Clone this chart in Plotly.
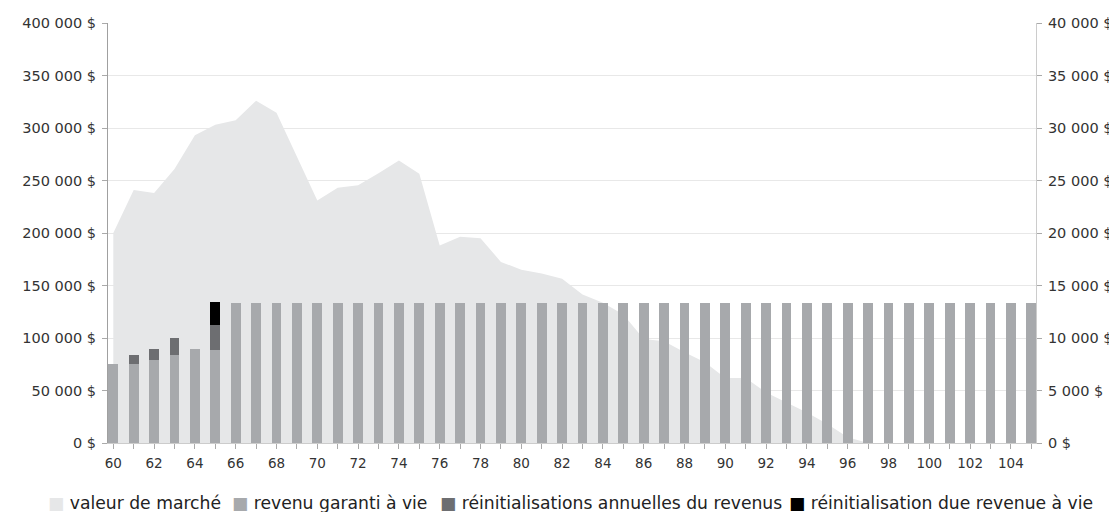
import plotly.graph_objects as go

# ---------------- data ----------------
ages = list(range(60, 106))

market_value = [200000, 241000, 238000, 261000, 293000, 303000, 307500, 326000, 314500, 273000,
                231000, 243000, 245500, 257000, 269000, 256500, 188000, 196500, 195000, 172500,
                165000, 161500, 156500, 141500, 133500, 122500, 99000, 97000, 86500, 77000,
                62000, 62000, 48000, 38500, 29000, 18000, 5500, 0]
market_ages = ages[:len(market_value)]

guaranteed_income = [7500, 7500, 7950, 8400, 9000, 8900, 13300, 13300, 13300, 13300,
                     13300, 13300, 13300, 13300, 13300, 13300, 13300, 13300, 13300, 13300,
                     13300, 13300, 13300, 13300, 13300, 13300, 13300, 13300, 13300, 13300,
                     13300, 13300, 13300, 13300, 13300, 13300, 13300, 13300, 13300, 13300,
                     13300, 13300, 13300, 13300, 13300, 13300]
annual_resets = [None, 900, 1050, 1600, None, 2300]
annual_reset_ages = ages[:len(annual_resets)]
due_reset = [2200]
due_reset_ages = [65]

left_ticks = [0, 50000, 100000, 150000, 200000, 250000, 300000, 350000, 400000]
right_ticks = [0, 5000, 10000, 15000, 20000, 25000, 30000, 35000, 40000]

names = ["valeur de marché", "revenu garanti à vie",
         "réinitialisations annuelles du revenus", "réinitialisation due revenue à vie"]
colors = ["#e6e7e8", "#a7a9ac", "#6d6e71", "#000000"]


def money(v):
    return f"{v:,}".replace(",", "\u00a0") + "\u00a0$"


x_ticktext = [str(a) if (a % 2 == 0 and a <= 104) else "" for a in ages]

FONT = "DejaVu Sans"
BAR_W = 0.48

# page geometry (page body has an 8px margin)
BODY = 8
FIG_W, FIG_H = 1109, 540
M_L, M_R, M_T = 100, 81, 15
PLOT_BOTTOM = 435
M_B = FIG_H - PLOT_BOTTOM
PLOT_W = FIG_W - M_L - M_R
PLOT_H = PLOT_BOTTOM - M_T

legend_item_starts = [48, 232, 440, 789]   # page x of each legend square
legend_center_y = 503                      # page y of legend row
LEGEND_FONT = 17.2

fig = go.Figure()

# area (left axis)
fig.add_trace(go.Scatter(
    x=market_ages, y=market_value, mode="lines", fill="tozeroy",
    fillcolor=colors[0], line=dict(width=0, color=colors[0]),
    name=names[0], showlegend=False, hoverinfo="skip", yaxis="y"))

fig.add_trace(go.Bar(x=ages, y=guaranteed_income, name=names[1], marker_color=colors[1],
                     width=BAR_W, yaxis="y2", marker_line_width=0, showlegend=False))
fig.add_trace(go.Bar(x=annual_reset_ages, y=annual_resets, name=names[2], marker_color=colors[2],
                     width=BAR_W, yaxis="y2", marker_line_width=0, showlegend=False))
fig.add_trace(go.Bar(x=due_reset_ages, y=due_reset, name=names[3], marker_color=colors[3],
                     width=BAR_W, yaxis="y2", marker_line_width=0, showlegend=False))

# legend row (colored squares + labels)
for name, color, px in zip(names, colors, legend_item_starts):
    fig.add_annotation(
        xref="paper", yref="paper",
        x=(px - BODY - M_L) / PLOT_W, xanchor="left",
        y=(PLOT_BOTTOM - (legend_center_y - BODY)) / PLOT_H, yanchor="middle",
        text=f'<span style="color:{color}">\u25a0</span> {name}',
        showarrow=False, borderpad=0, borderwidth=0,
        font=dict(family=FONT, size=LEGEND_FONT, color="#222222"))

fig.update_layout(
    width=FIG_W, height=FIG_H,
    margin=dict(l=M_L, r=M_R, t=M_T, b=M_B, pad=0, autoexpand=False),
    paper_bgcolor="white", plot_bgcolor="white",
    barmode="stack",
    font=dict(family=FONT, size=14, color="#333333"),
    showlegend=False,
    xaxis=dict(range=[59.74, 105.23], tickmode="array", tickvals=ages, ticktext=x_ticktext,
               ticks="outside", ticklen=5, tickcolor="#aaaaaa", showline=True,
               linecolor="#cccccc", linewidth=1, showgrid=False, zeroline=False,
               automargin=False, ticklabelstandoff=3,
               tickfont=dict(family=FONT, size=13.5, color="#333333")),
    yaxis=dict(range=[0, 400000], tickmode="array", tickvals=left_ticks,
               ticktext=[money(v) for v in left_ticks], ticks="outside", ticklen=5,
               tickcolor="#aaaaaa", showline=True, linecolor="#a0a0a0", linewidth=1,
               gridcolor="#e8e8e8", zeroline=False, automargin=False, ticklabelstandoff=3,
               tickfont=dict(family=FONT, size=14.5, color="#333333")),
    yaxis2=dict(range=[0, 40000], overlaying="y", side="right", tickmode="array",
                tickvals=right_ticks, ticktext=[money(v) for v in right_ticks],
                ticks="outside", ticklen=5, tickcolor="#aaaaaa", showline=True,
                linecolor="#cccccc", linewidth=1, showgrid=False, zeroline=False,
                automargin=False, ticklabelstandoff=3,
                tickfont=dict(family=FONT, size=14.5, color="#333333")),
)

fig.write_html("out.html")
